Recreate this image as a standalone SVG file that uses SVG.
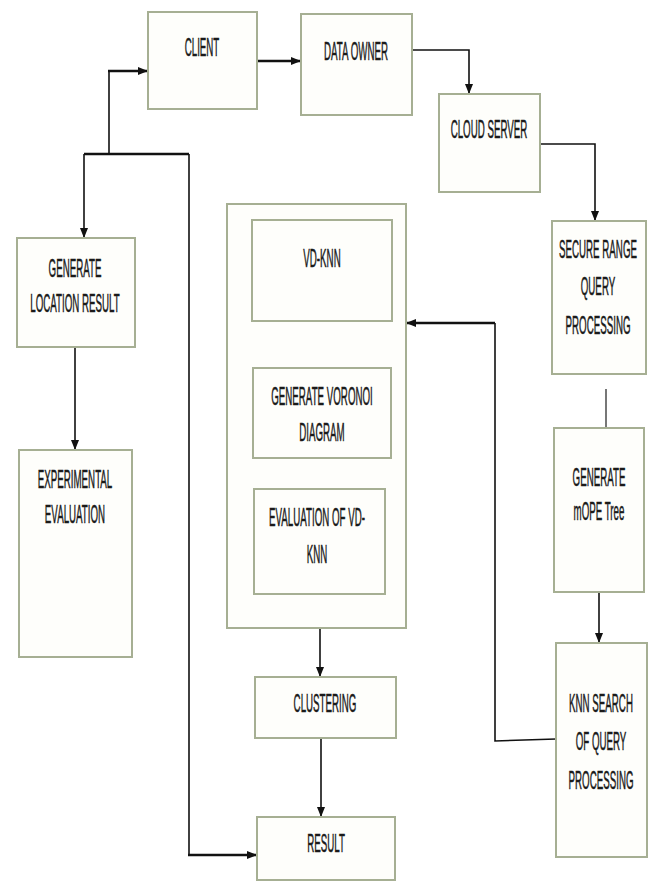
<svg xmlns="http://www.w3.org/2000/svg" width="653" height="882" viewBox="0 0 653 882">
<defs>
<style>
.box{fill:#fefefb;stroke:#a6af93;stroke-width:2}
.t{font-family:"Liberation Sans",Arial,sans-serif;font-size:25px;fill:#1a1a1a;stroke:#1a1a1a;stroke-width:0.5;text-anchor:middle}
.c{fill:none;stroke:#111;stroke-width:1.6}
.ct{fill:none;stroke:#111;stroke-width:2.6}
</style>
<marker id="ah" markerUnits="userSpaceOnUse" markerWidth="10" markerHeight="10" refX="10" refY="5" orient="auto">
<path d="M0,1 L10,5 L0,9 z" fill="#111"/>
</marker>
</defs>
<rect width="653" height="882" fill="#fff"/>

<g id="connectors">
<path class="ct" d="M257,61 H301" marker-end="url(#ah)"/>
<path class="c" d="M412,50 H469 V94" marker-end="url(#ah)"/>
<path class="c" d="M540,144 H595 V221" marker-end="url(#ah)"/>
<path class="c" d="M606,389 V428" style="stroke:#555"/>
<path class="c" d="M599,592 V643" marker-end="url(#ah)"/>
<path class="c" d="M556,739 L495,741 V323" />
<path class="ct" d="M495,323 H406" marker-end="url(#ah)"/>
<path class="c" d="M320,628 V677" marker-end="url(#ah)"/>
<path class="c" d="M321,738 V817" marker-end="url(#ah)"/>
<path class="ct" d="M84,154 H189"/>
<path class="c" d="M84,154 V238" marker-end="url(#ah)"/>
<path class="c" d="M109,154 V71"/>
<path class="ct" d="M108,71 H148" marker-end="url(#ah)"/>
<path class="c" d="M189,154 V855"/>
<path class="ct" d="M188,855 H257" marker-end="url(#ah)"/>
<path class="c" d="M75,347 V450" marker-end="url(#ah)"/>
</g>

<g id="client">
<rect class="box" x="148" y="12" width="109" height="97"/>
<text class="t" transform="translate(202,56) scale(0.39,1)">CLIENT</text>
</g>
<g id="data-owner">
<rect class="box" x="301" y="14" width="111" height="101"/>
<text class="t" transform="translate(356,60) scale(0.39,1)">DATA OWNER</text>
</g>
<g id="cloud-server">
<rect class="box" x="439" y="94" width="101" height="98"/>
<text class="t" transform="translate(489,138) scale(0.39,1)">CLOUD SERVER</text>
</g>
<g id="secure-range">
<rect class="box" x="552" y="221" width="94" height="153"/>
<text class="t" transform="translate(598,258) scale(0.39,1)">SECURE RANGE</text>
<text class="t" transform="translate(598,295) scale(0.39,1)">QUERY</text>
<text class="t" transform="translate(598,334) scale(0.39,1)">PROCESSING</text>
</g>
<g id="mope-tree">
<rect class="box" x="554" y="428" width="90" height="164"/>
<text class="t" transform="translate(599,486) scale(0.39,1)">GENERATE</text>
<text class="t" transform="translate(599,520) scale(0.39,1)">mOPE Tree</text>
</g>
<g id="knn-search">
<rect class="box" x="556" y="643" width="91" height="214"/>
<text class="t" transform="translate(601,712) scale(0.39,1)">KNN SEARCH</text>
<text class="t" transform="translate(601,750) scale(0.39,1)">OF QUERY</text>
<text class="t" transform="translate(601,789) scale(0.39,1)">PROCESSING</text>
</g>
<g id="vd-container">
<rect class="box" x="227" y="204" width="179" height="424"/>
</g>
<g id="vd-knn">
<rect class="box" x="252" y="220" width="140" height="101"/>
<text class="t" transform="translate(322,267) scale(0.39,1)">VD-KNN</text>
</g>
<g id="voronoi">
<rect class="box" x="253" y="368" width="138" height="90"/>
<text class="t" transform="translate(322,405) scale(0.39,1)">GENERATE VORONOI</text>
<text class="t" transform="translate(322,441) scale(0.39,1)">DIAGRAM</text>
</g>
<g id="evaluation-vdknn">
<rect class="box" x="254" y="489" width="131" height="105"/>
<text class="t" transform="translate(317,526) scale(0.39,1)">EVALUATION OF VD-</text>
<text class="t" transform="translate(317,563) scale(0.39,1)">KNN</text>
</g>
<g id="clustering">
<rect class="box" x="255" y="677" width="141" height="61"/>
<text class="t" transform="translate(325,712) scale(0.39,1)">CLUSTERING</text>
</g>
<g id="result">
<rect class="box" x="257" y="817" width="138" height="63"/>
<text class="t" transform="translate(326,852) scale(0.39,1)">RESULT</text>
</g>
<g id="location-result">
<rect class="box" x="17" y="238" width="118" height="109"/>
<text class="t" transform="translate(75,277) scale(0.39,1)">GENERATE</text>
<text class="t" transform="translate(75,312) scale(0.39,1)">LOCATION RESULT</text>
</g>
<g id="experimental">
<rect class="box" x="19" y="450" width="113" height="207"/>
<text class="t" transform="translate(75,488) scale(0.39,1)">EXPERIMENTAL</text>
<text class="t" transform="translate(75,523) scale(0.39,1)">EVALUATION</text>
</g>
</svg>
